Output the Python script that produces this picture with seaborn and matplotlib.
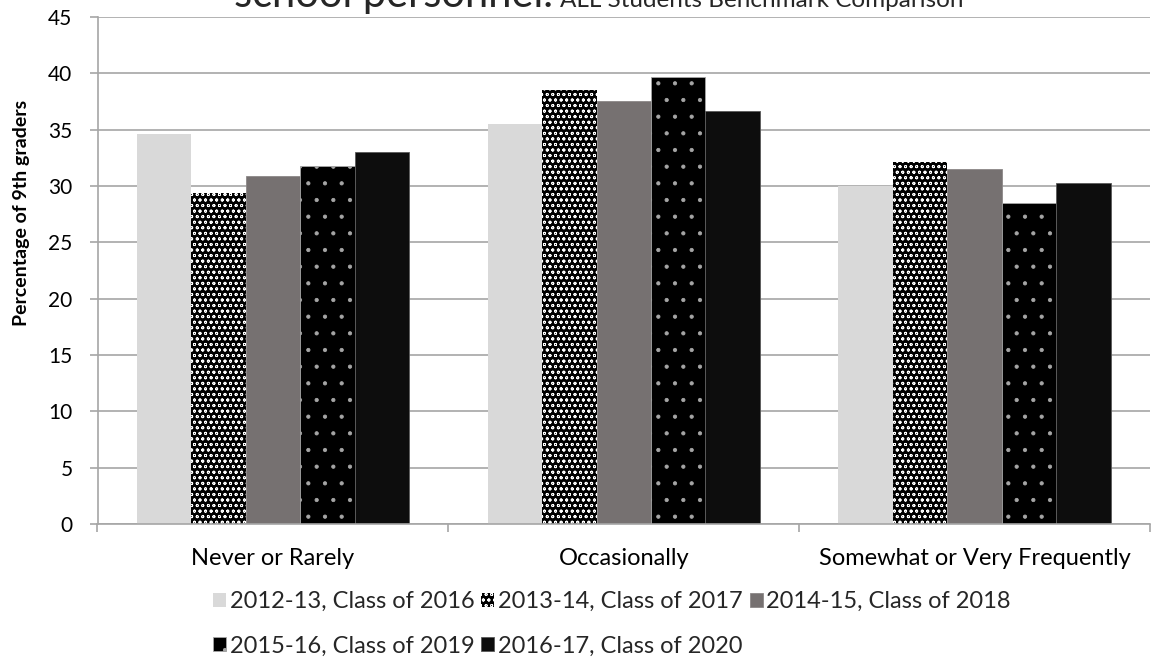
import matplotlib
matplotlib.use("Agg")
import matplotlib.pyplot as plt
import matplotlib.patches as mpatches
import seaborn as sns
import pandas as pd
from matplotlib.ticker import FixedLocator

categories = ["Never or Rarely", "Occasionally", "Somewhat or Very Frequently"]
series = ["2012-13, Class of 2016", "2013-14, Class of 2017", "2014-15, Class of 2018",
          "2015-16, Class of 2019", "2016-17, Class of 2020"]
v_2012 = [34.6, 35.5, 30.0]
v_2013 = [29.4, 38.5, 32.1]
v_2014 = [30.9, 37.5, 31.5]
v_2015 = [31.8, 39.7, 28.5]
v_2016 = [33.0, 36.7, 30.3]
values = [v_2012, v_2013, v_2014, v_2015, v_2016]
y_ticks = [0, 5, 10, 15, 20, 25, 30, 35, 40, 45]

colors = ["#d9d9d9", "#000000", "#767171", "#000000", "#0d0d0d"]
hatches = [None, "ooo", None, ".", None]
edgecolors = ["#d9d9d9", "#ffffff", "#8c8888", "#a6a6a6", "#595959"]
edgewidths = [0, 0, 0.6, 0.6, 0.6]

rows = []
for s, vals in zip(series, values):
    for c, v in zip(categories, vals):
        rows.append({"category": c, "series": s, "value": v})
df = pd.DataFrame(rows)

sns.set_theme(style="white")
plt.rcParams["font.family"] = ["Lato", "DejaVu Sans"]
plt.rcParams["hatch.linewidth"] = 0.6

W, H = 1151, 662
fig = plt.figure(figsize=(W / 100, H / 100), dpi=100)
ax = fig.add_axes([97.5 / W, (H - 524) / H, (1150 - 97.5) / W, (524 - 17) / H])

sns.barplot(data=df, x="category", y="value", hue="series", order=categories,
            hue_order=series, palette=colors, saturation=1, width=0.776, ax=ax)
if ax.get_legend() is not None:
    ax.get_legend().remove()

for i, cont in enumerate(ax.containers):
    for p in cont.patches:
        p.set_edgecolor(edgecolors[i])
        p.set_linewidth(edgewidths[i])
        if hatches[i]:
            p.set_hatch(hatches[i])

ax.set_ylim(0, 45)
ax.set_xlim(-0.5, 2.5)
ax.set_yticks(y_ticks)
ax.yaxis.grid(True, color="#a6a6a6", linewidth=1.2)
ax.set_axisbelow(True)
for side in ["top", "right"]:
    ax.spines[side].set_visible(False)
for side in ["left", "bottom"]:
    ax.spines[side].set_color("#a6a6a6")
    ax.spines[side].set_linewidth(1.2)

ax.tick_params(axis="y", which="major", left=True, length=6, width=1.2, color="#a6a6a6",
               labelsize=15, pad=12, labelcolor="#000000")
ax.xaxis.set_minor_locator(FixedLocator([-0.5, 0.5, 1.5, 2.5]))
ax.tick_params(axis="x", which="major", bottom=False, length=0, labelsize=17, pad=17,
               labelcolor="#000000")
ax.tick_params(axis="x", which="minor", bottom=True, length=6, width=1.2, color="#a6a6a6")

ax.set_xlabel("")
ax.set_ylabel("Percentage of 9th graders", fontsize=14, fontweight="bold", color="#000000")
ax.yaxis.label.set_va("center")
ax.yaxis.set_label_coords((22 - 97.5) / (1150 - 97.5), (524 - 213) / (524 - 17))

# title (partially clipped at the top as in the reference)
fig.text(234 / W, 1 - 7 / H, "school personnel.", fontsize=30, va="baseline", ha="left")
fig.text(560 / W, 1 - 7 / H, "ALL Students Benchmark Comparison", fontsize=17.5,
         va="baseline", ha="left")

leg_handles = []
for i in range(5):
    leg_handles.append(mpatches.Patch(facecolor=colors[i], edgecolor=edgecolors[i],
                                      linewidth=edgewidths[i], hatch=hatches[i]))
order = [0, 3, 1, 4, 2]
fig.legend([leg_handles[k] for k in order], [series[k] for k in order], ncol=3,
           loc="upper left", bbox_to_anchor=(213 / W, 1 - 591 / H), frameon=False,
           fontsize=17, handlelength=0.55, handleheight=0.55, handletextpad=0.15,
           columnspacing=0.3, labelspacing=1.0, borderpad=0, borderaxespad=0)

fig.savefig("out.png", dpi=100)
